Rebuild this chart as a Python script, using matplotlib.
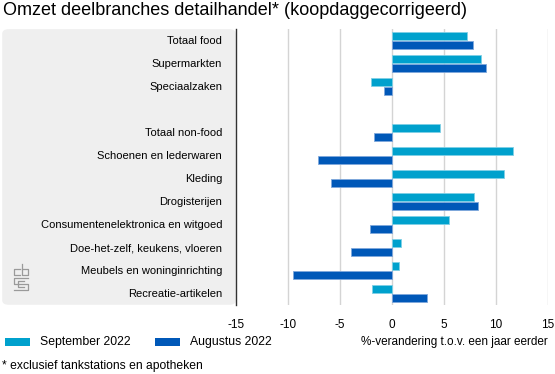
import numpy as np
import matplotlib
matplotlib.use("Agg")
import matplotlib.pyplot as plt
from matplotlib.patches import FancyBboxPatch, Rectangle

plt.rcParams["font.family"] = ["Liberation Sans", "DejaVu Sans"]

categories = ["Totaal food", "Supermarkten", "Speciaalzaken", "",
              "Totaal non-food", "Schoenen en lederwaren", "Kleding",
              "Drogisterijen", "Consumentenelektronica en witgoed",
              "Doe-het-zelf, keukens, vloeren", "Meubels en woninginrichting",
              "Recreatie-artikelen"]
sep_2022 = [7.25, 8.6, -2.0, np.nan, 4.6, 11.7, 10.8, 7.9, 5.5, 0.9, 0.65, -1.9]
aug_2022 = [7.8, 9.1, -0.75, np.nan, -1.7, -7.1, -5.9, 8.3, -2.1, -3.9, -9.5, 3.4]
xticks = [-15, -10, -5, 0, 5, 10, 15]

c_sep = "#00a1cd"
c_aug = "#0058b8"

fig = plt.figure(figsize=(5.55, 3.74), dpi=100)

# grey label panel
panel = FancyBboxPatch((0.004, 0.185), 0.421, 0.737,
                       boxstyle="round,pad=0,rounding_size=0.012",
                       transform=fig.transFigure, facecolor="#efefef",
                       edgecolor="none", zorder=-10)
fig.patches.append(panel)

ax = fig.add_axes([0.4252, 0.1845, 0.5616, 0.738])
ax.set_facecolor("none")

y = np.arange(len(categories))
h = 0.36
ax.barh(y - 0.2, sep_2022, height=h, color=c_sep, edgecolor="#7fd0e6",
        linewidth=0.6, zorder=3)
ax.barh(y + 0.2, aug_2022, height=h, color=c_aug, edgecolor="#7fa8db",
        linewidth=0.6, zorder=3)

ax.set_xlim(-15, 15)
ax.set_ylim(len(categories) - 0.5, -0.5)
ax.set_xticks(xticks)
ax.set_xticklabels([str(t) for t in xticks], fontsize=8.5)
ax.set_yticks(y)
ax.set_yticklabels(categories, fontsize=8.0)
ax.tick_params(axis="both", length=0)
ax.tick_params(axis="y", pad=10)
ax.tick_params(axis="x", pad=10)

for t in xticks[1:]:
    ax.axvline(t, color="#d4d4d4", linewidth=1, zorder=1)
for s in ["top", "right", "bottom"]:
    ax.spines[s].set_visible(False)
ax.spines["left"].set_color("#333333")
ax.spines["left"].set_linewidth(1)

fig.text(0.006, 0.972, "Omzet deelbranches detailhandel* (koopdaggecorrigeerd)",
         fontsize=13, va="center", ha="left")

# legend
fig.patches.append(Rectangle((0.009, 0.075), 0.045, 0.022,
                             transform=fig.transFigure, facecolor=c_sep,
                             edgecolor="none"))
fig.text(0.072, 0.086, "September 2022", fontsize=8.8, va="center")
fig.patches.append(Rectangle((0.279, 0.075), 0.045, 0.022,
                             transform=fig.transFigure, facecolor=c_aug,
                             edgecolor="none"))
fig.text(0.342, 0.086, "Augustus 2022", fontsize=8.8, va="center")
fig.text(0.987, 0.086, "%-verandering t.o.v. een jaar eerder", fontsize=8.5,
         va="center", ha="right")
fig.text(0.004, 0.021, "* exclusief tankstations en apotheken", fontsize=8.7,
         va="center")

# small cbs logo
lg = "#9a9a9a"
def fl(xs, ys):
    fig.add_artist(plt.Line2D(np.array(xs) / 555, 1 - np.array(ys) / 374,
                              color=lg, linewidth=0.9))
fl([20, 14, 14, 20], [269, 269, 275, 275])
fl([22, 22, 28, 28, 22], [264, 275, 275, 269, 269])
fl([28, 14, 14, 28, 28, 14], [278, 278, 284, 284, 290, 290])
fl([24, 18, 18, 24], [281, 281, 287, 287])

fig.savefig("out.png", dpi=100)
